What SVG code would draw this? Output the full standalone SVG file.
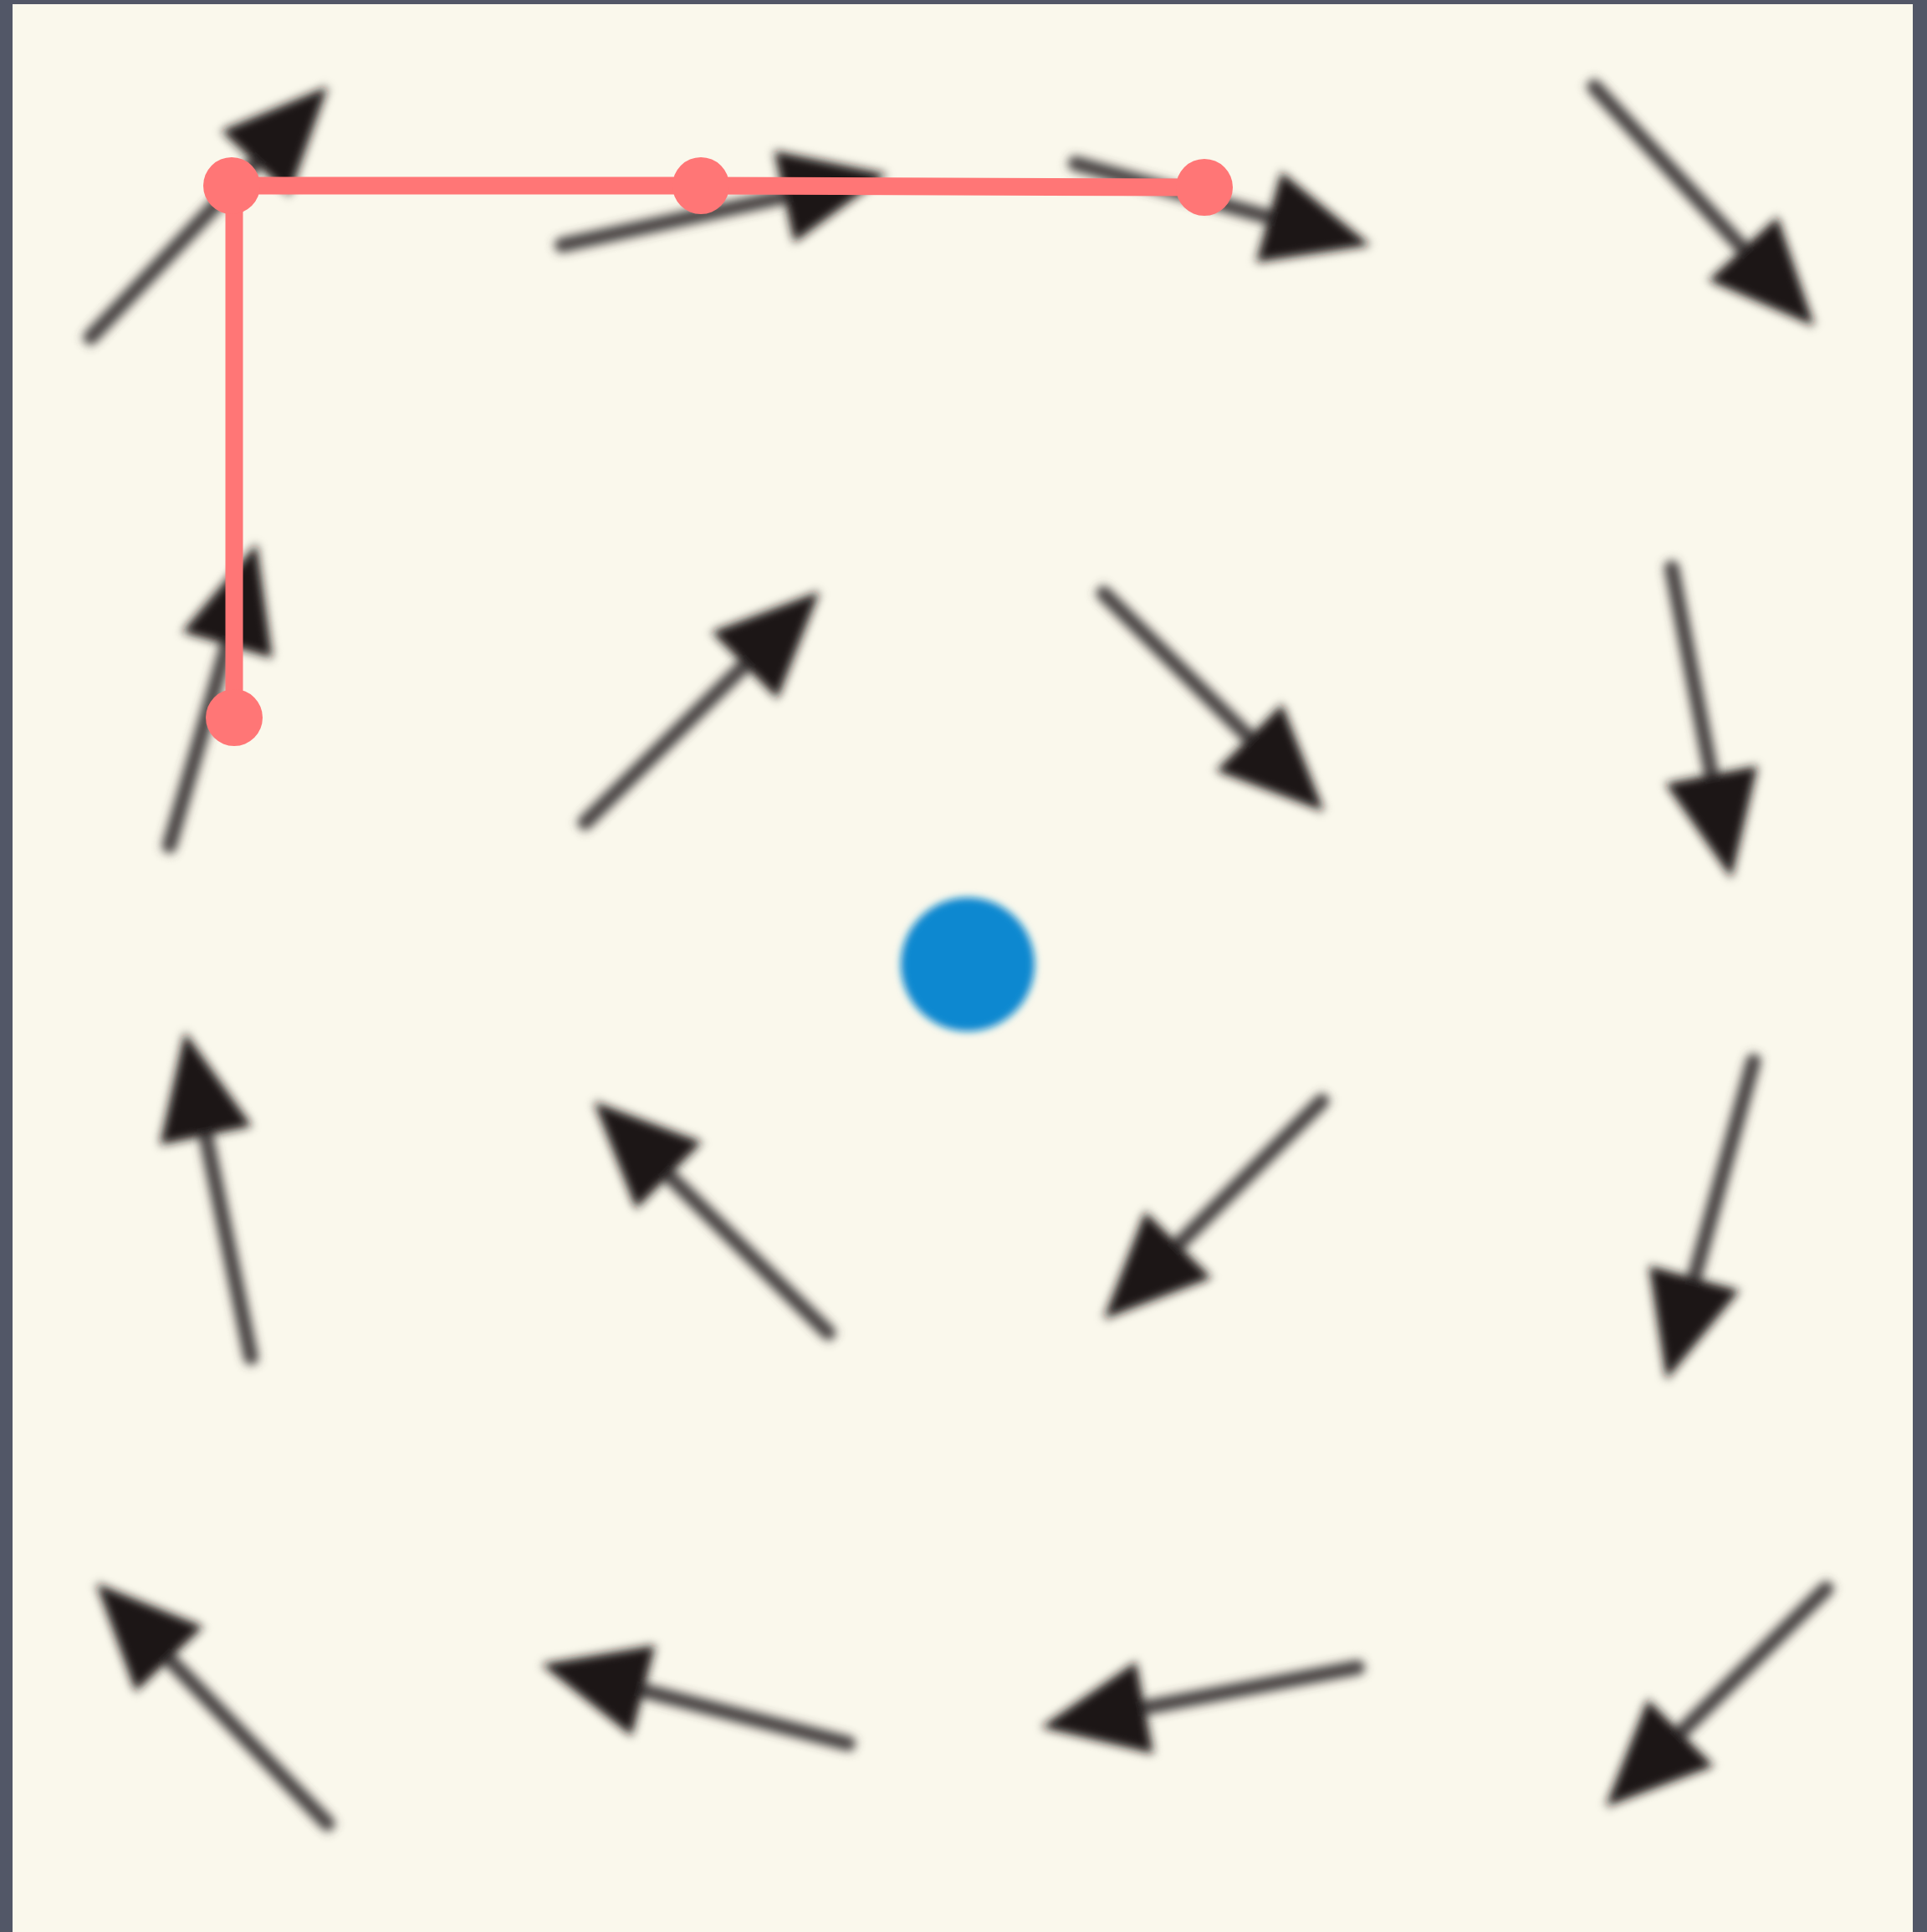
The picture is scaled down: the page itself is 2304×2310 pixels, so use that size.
<svg xmlns="http://www.w3.org/2000/svg" xmlns:xlink="http://www.w3.org/1999/xlink" width="2304" height="2310" viewBox="0 0 2304 2310">
  <style>
    .shaft { stroke: #4a4445; stroke-width: 18; stroke-linecap: round; fill: none; }
    .head { fill: #1a1315; }
    .arrow { filter: url(#soft); }
    .path-line { fill: none; stroke: #FF7676; stroke-width: 21; stroke-linejoin: miter; }
    .pt { fill: #FF7676; }
  </style>
  <defs>
    <filter id="soft" x="-0.3" y="-0.3" width="1.6" height="1.6">
      <feGaussianBlur stdDeviation="6"/>
    </filter>
    <filter id="softdot" x="-0.2" y="-0.2" width="1.4" height="1.4">
      <feGaussianBlur stdDeviation="5"/>
    </filter>
    <polygon id="head" class="head" points="0,0 -126,-56 -126,56"/>
  </defs>

  <rect x="0" y="0" width="2304" height="2310" fill="#525767"/>
  <rect x="15" y="5" width="2272" height="2305" fill="#FAF8EC"/>

  <g id="field">
    <g id="arrow-1" class="arrow" transform="translate(102,410) rotate(-46.6)"><line class="shaft" x1="9" y1="0" x2="312" y2="0"/><use href="#head" transform="translate(422,0)"/></g>
    <g id="arrow-2" class="arrow" transform="translate(663,295) rotate(-12.3)"><line class="shaft" x1="9" y1="0" x2="297" y2="0"/><use href="#head" transform="translate(407,0)"/></g>
    <g id="arrow-3" class="arrow" transform="translate(1277,193) rotate(15.5)"><line class="shaft" x1="9" y1="0" x2="265" y2="0"/><use href="#head" transform="translate(375,0)"/></g>
    <g id="arrow-4" class="arrow" transform="translate(1900,97) rotate(47.4)"><line class="shaft" x1="9" y1="0" x2="288" y2="0"/><use href="#head" transform="translate(398,0)"/></g>

    <g id="arrow-5" class="arrow" transform="translate(200,1020) rotate(-73.9)"><line class="shaft" x1="9" y1="0" x2="275" y2="0"/><use href="#head" transform="translate(385,0)"/></g>
    <g id="arrow-6" class="arrow" transform="translate(693,990) rotate(-44.6)"><line class="shaft" x1="9" y1="0" x2="293" y2="0"/><use href="#head" transform="translate(403,0)"/></g>
    <g id="arrow-7" class="arrow" transform="translate(1313,703) rotate(44.7)"><line class="shaft" x1="9" y1="0" x2="270" y2="0"/><use href="#head" transform="translate(380,0)"/></g>
    <g id="arrow-8" class="arrow" transform="translate(1997,670) rotate(79.1)"><line class="shaft" x1="9" y1="0" x2="277" y2="0"/><use href="#head" transform="translate(387,0)"/></g>

    <g id="arrow-9" class="arrow" transform="translate(302,1632) rotate(-101.5)"><line class="shaft" x1="9" y1="0" x2="296" y2="0"/><use href="#head" transform="translate(406,0)"/></g>
    <g id="arrow-10" class="arrow" transform="translate(997,1600) rotate(-135.4)"><line class="shaft" x1="9" y1="0" x2="293" y2="0"/><use href="#head" transform="translate(403,0)"/></g>
    <g id="arrow-11" class="arrow" transform="translate(1587,1310) rotate(135)"><line class="shaft" x1="9" y1="0" x2="268" y2="0"/><use href="#head" transform="translate(378,0)"/></g>
    <g id="arrow-12" class="arrow" transform="translate(2099,1260) rotate(105.3)"><line class="shaft" x1="9" y1="0" x2="294" y2="0"/><use href="#head" transform="translate(404,0)"/></g>

    <g id="arrow-13" class="arrow" transform="translate(398,2187) rotate(-133.9)"><line class="shaft" x1="9" y1="0" x2="298" y2="0"/><use href="#head" transform="translate(408,0)"/></g>
    <g id="arrow-14" class="arrow" transform="translate(1023,2087) rotate(-165.5)"><line class="shaft" x1="9" y1="0" x2="278" y2="0"/><use href="#head" transform="translate(388,0)"/></g>
    <g id="arrow-15" class="arrow" transform="translate(1632,1992) rotate(169.3)"><line class="shaft" x1="9" y1="0" x2="284" y2="0"/><use href="#head" transform="translate(394,0)"/></g>
    <g id="arrow-16" class="arrow" transform="translate(2190,1893) rotate(135.3)"><line class="shaft" x1="9" y1="0" x2="270" y2="0"/><use href="#head" transform="translate(380,0)"/></g>
  </g>

  <g id="center">
    <circle cx="1157" cy="1153" r="80" fill="#0A88D0" filter="url(#softdot)"/>
  </g>

  <g id="connectors">
    <polyline class="path-line" points="280,858 280,222 838,222 1440,224"/>
  </g>

  <g id="point-a"><circle class="pt" cx="277" cy="222" r="34"/></g>
  <g id="point-b"><circle class="pt" cx="838" cy="222" r="34"/></g>
  <g id="point-c"><circle class="pt" cx="1440" cy="224" r="34"/></g>
  <g id="point-d"><circle class="pt" cx="280" cy="858" r="34"/></g>
</svg>
